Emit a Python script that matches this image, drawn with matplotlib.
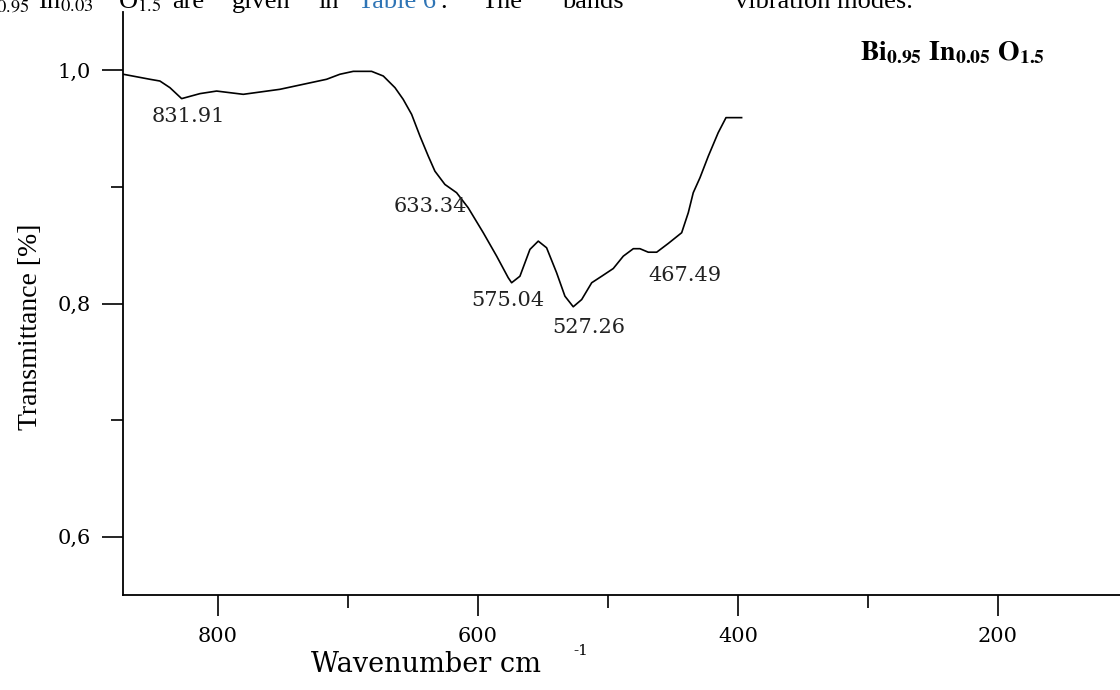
import matplotlib
matplotlib.use("Agg")
import matplotlib.pyplot as plt
from matplotlib.ticker import FixedLocator

plt.rcParams['mathtext.fontset'] = 'stix'

# Данные спектра (волновое число, пропускание)
wavenumber = [872.8, 852.3, 844.6, 836.9, 827.9, 813.8, 801.0, 780.5, 752.3, 716.4,
              706.2, 695.9, 681.8, 672.8, 663.8, 657.5, 651.0, 644.6, 638.2, 633.1,
              625.4, 616.4, 607.5, 595.9, 585.6, 576.7, 574.1, 567.7, 560.0, 553.6,
              547.2, 539.5, 533.1, 526.7, 520.2, 512.5, 504.8, 495.9, 488.2, 480.5,
              475.4, 469.0, 462.5, 453.6, 443.3, 438.2, 434.4, 429.2, 422.8, 415.2,
              409.2, 397.2]
transmittance = [0.9966, 0.9923, 0.9908, 0.9851, 0.9757, 0.9800, 0.9822, 0.9794, 0.9837, 0.9923,
                 0.9966, 0.9991, 0.9991, 0.9951, 0.9851, 0.9751, 0.9622, 0.9436, 0.9264, 0.9135,
                 0.9021, 0.8950, 0.8821, 0.8607, 0.8406, 0.8221, 0.8178, 0.8234, 0.8464, 0.8535,
                 0.8478, 0.8264, 0.8063, 0.7972, 0.8034, 0.8178, 0.8234, 0.8300, 0.8406, 0.8470,
                 0.8470, 0.8440, 0.8440, 0.8515, 0.8607, 0.8779, 0.8950, 0.9079, 0.9264, 0.9465,
                 0.9594, 0.9594]

# Подписи пиков
peak_labels = ['831.91', '633.34', '575.04', '527.26', '467.49']
label_x = [822.5, 636.9, 577.3, 514.6, 440.8]
label_y = [0.9603, 0.8833, 0.8028, 0.7798, 0.8243]

# Деления осей
x_major = [800, 600, 400, 200]
x_minor = [700, 500, 300]
y_major = [0.6, 0.8, 1.0]
y_minor = [0.7, 0.9]
y_major_labels = ['0,6', '0,8', '1,0']

fig = plt.figure(figsize=(11.2, 6.9), dpi=100)
ax = fig.add_axes([123 / 1120, 95 / 690, 1005 / 1120, 583 / 690])

ax.plot(wavenumber, transmittance, color='black', lw=1.2)

for text, x, y in zip(peak_labels, label_x, label_y):
    ax.text(x, y, text, ha='center', va='center', fontsize=15,
            family='DejaVu Serif', color='#222222')

ax.set_xlim(873, 100)
ax.set_ylim(0.55, 1.05)

ax.xaxis.set_major_locator(FixedLocator(x_major))
ax.xaxis.set_minor_locator(FixedLocator(x_minor))
ax.yaxis.set_major_locator(FixedLocator(y_major))
ax.yaxis.set_minor_locator(FixedLocator(y_minor))
ax.set_yticklabels(y_major_labels)
ax.set_xticklabels([str(v) for v in x_major])

ax.tick_params(which='major', length=15, width=1.2, pad=8, labelsize=15)
ax.tick_params(which='minor', length=9, width=1.2)
for lab in ax.get_xticklabels() + ax.get_yticklabels():
    lab.set_family('DejaVu Serif')

ax.spines['top'].set_visible(False)
ax.spines['right'].set_visible(False)
ax.spines['left'].set_linewidth(1.3)
ax.spines['bottom'].set_linewidth(1.3)

# Подписи осей
fig.text(31 / 1120, 1 - 327 / 690, 'Transmittance [%]', rotation=90,
         ha='center', va='center', fontsize=20, family='Liberation Serif')
fig.text(426 / 1120, 1 - 665 / 690, 'Wavenumber cm', ha='center', va='center',
         fontsize=19.5, family='DejaVu Serif')
fig.text(573 / 1120, 1 - 651 / 690, '-1', ha='left', va='center',
         fontsize=11, family='DejaVu Serif')

# Формула образца
fig.text(860 / 1120, 1 - 60 / 690, r'$\mathbf{Bi_{0.95}\ In_{0.05}\ O_{1.5}}$',
         ha='left', va='baseline', fontsize=20)

# Обрезанная строка текста статьи сверху
base = 1 - 8 / 690
pieces = [(30, r'Bi$_{0.95}$', 'right', 'black'),
          (38, r'In$_{0.03}$', 'left', 'black'),
          (118, r'O$_{1.5}$', 'left', 'black'),
          (172, 'are', 'left', 'black'),
          (232, 'given', 'left', 'black'),
          (318, 'in', 'left', 'black'),
          (358, 'Table 6', 'left', '#2E74B5'),
          (440, '.', 'left', 'black'),
          (482, 'The', 'left', 'black'),
          (562, 'bands', 'left', 'black'),
          (735, 'vibration modes.', 'left', 'black')]
for px, text, ha, col in pieces:
    fig.text(px / 1120, base, text, ha=ha, va='baseline', fontsize=19,
             family='Liberation Serif', color=col)

fig.savefig('out.png', dpi=100)
